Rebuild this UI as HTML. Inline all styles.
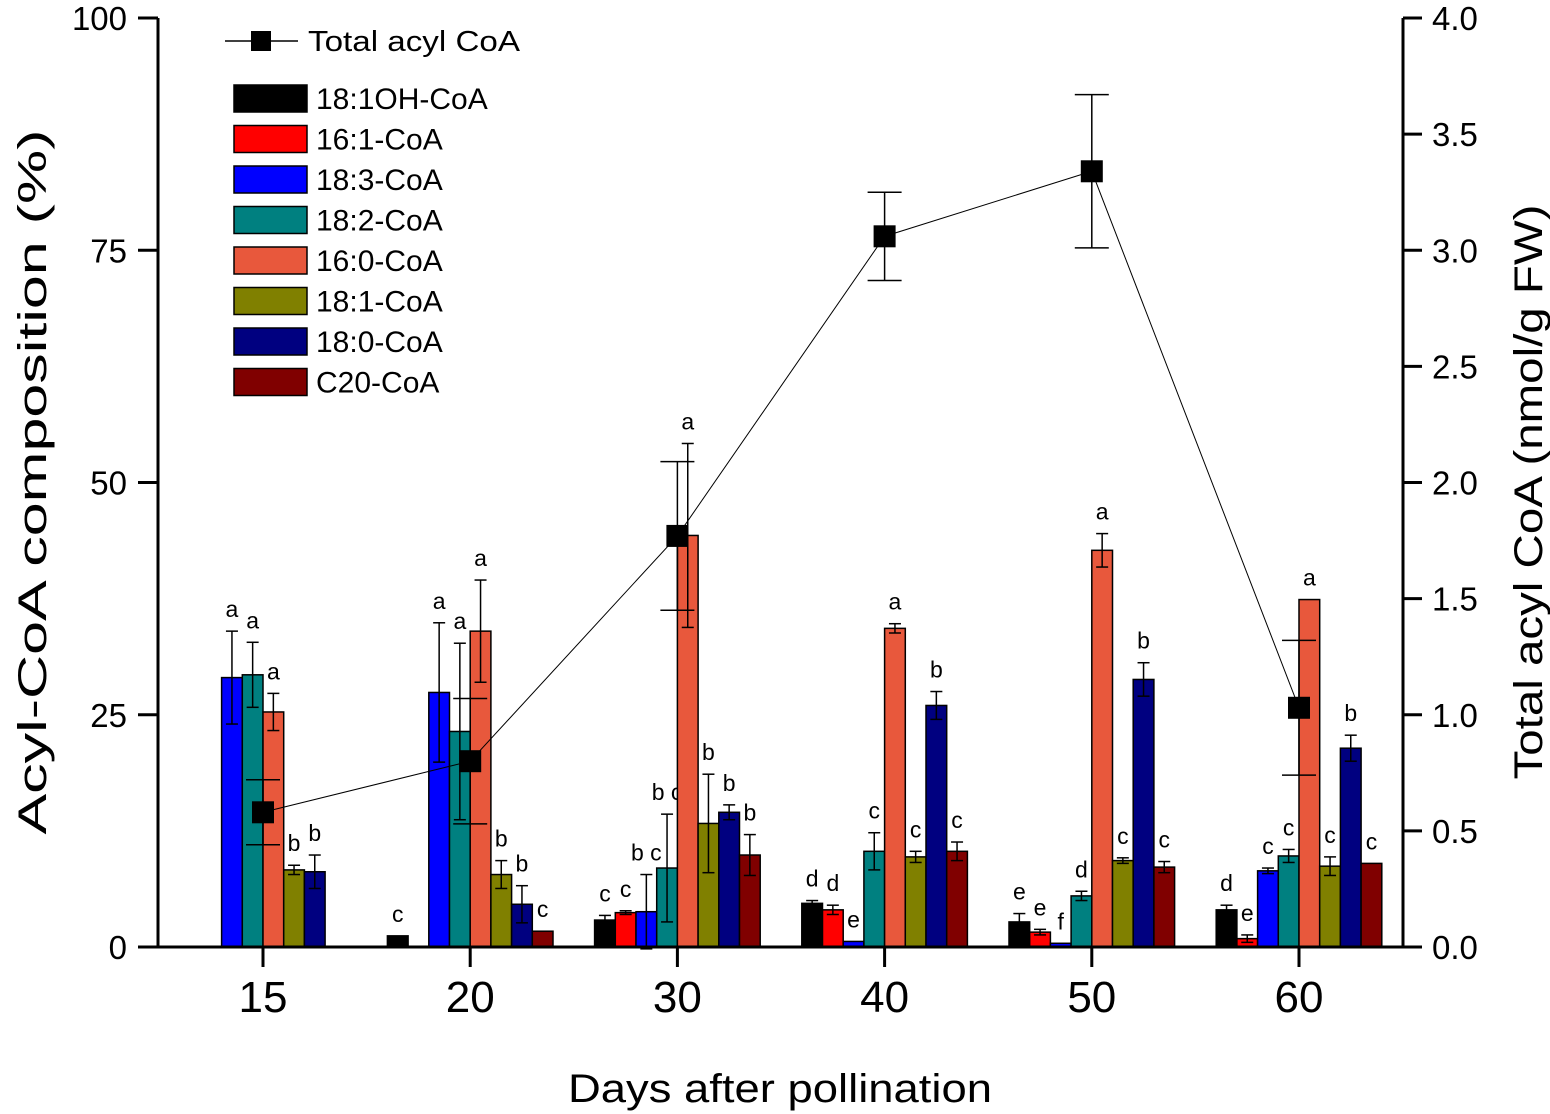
<!DOCTYPE html>
<html><head><meta charset="utf-8"><style>
body{margin:0;background:#fff}
svg{display:block;font-family:"Liberation Sans",Arial,sans-serif}
</style></head><body>
<svg id="chart" width="1550" height="1114" viewBox="0 0 1550 1114">
<g id="bars"></g>
<g id="line"></g>
<g id="axes"></g>
<g id="legend"></g>
</svg>
<script>
const categories = ["15","20","30","40","50","60"];
const seriesNames = ["18:1OH-CoA","16:1-CoA","18:3-CoA","18:2-CoA","16:0-CoA","18:1-CoA","18:0-CoA","C20-CoA"];
const colors = ["#000000","#ff0000","#0000ff","#008080","#e8583c","#808000","#000080","#800000"];
const s181OH = [0,1.2,2.9,4.7,2.7,4.0];
const s161 = [0,0,3.7,4.0,1.6,0.9];
const s183 = [29.0,27.4,3.8,0.6,0.4,8.2];
const s182 = [29.3,23.2,8.5,10.3,5.5,9.8];
const s160 = [25.3,34.0,44.3,34.3,42.7,37.4];
const s181 = [8.3,7.8,13.3,9.7,9.3,8.7];
const s180 = [8.1,4.6,14.5,26.0,28.8,21.4];
const sC20 = [0,1.7,9.9,10.3,8.6,9.0];
const e181OH = [0,0,0.5,0.3,0.9,0.5];
const e161 = [0,0,0.2,0.5,0.3,0.4];
const e183 = [5.0,7.5,4.0,0,0,0.3];
const e182 = [3.5,9.5,5.8,2.0,0.5,0.7];
const e160 = [2.0,5.5,9.9,0.5,1.8,0];
const e181 = [0.5,1.5,5.3,0.6,0.3,1.0];
const e180 = [1.8,2.0,0.8,1.5,1.8,1.4];
const eC20 = [0,0,2.2,1.0,0.6,0];
const l181OH = ["","c","c","d","e","d"];
const l161 = ["","","c","d","e","e"];
const l183 = ["a","a","b c","e","f","c"];
const l182 = ["a","a","b c","c","d","c"];
const l160 = ["a","a","a","a","a","a"];
const l181 = ["b","b","b","c","c","c"];
const l180 = ["b","b","b","b","b","b"];
const lC20 = ["","c","b","c","c","c"];
const totalAcyl = [0.58,0.80,1.77,3.06,3.34,1.03];
const totalErr = [0.14,0.27,0.32,0.19,0.33,0.29];
const yTicks = [0,25,50,75,100];
const y2Ticks = ["0.0","0.5","1.0","1.5","2.0","2.5","3.0","3.5","4.0"];

const NS="http://www.w3.org/2000/svg";
const X0=158, X1=1403, Y0=947, YT=18;
const BW=20.7;
function yL(v){return Y0-(Y0-YT)*v/100;}
function yR(v){return Y0-(Y0-YT)*v/4;}
function xC(i){return 263+i*207.2;}
function mk(tag,attrs,parent){const e=document.createElementNS(NS,tag);for(const k in attrs)e.setAttribute(k,attrs[k]);parent.appendChild(e);return e;}
const bars=document.getElementById('bars'), line=document.getElementById('line'), axes=document.getElementById('axes'), legend=document.getElementById('legend');
const vals=[s181OH,s161,s183,s182,s160,s181,s180,sC20];
const errs=[e181OH,e161,e183,e182,e160,e181,e180,eC20];
const labs=[l181OH,l161,l183,l182,l160,l181,l180,lC20];

categories.forEach((c,i)=>{
  vals.forEach((arr,s)=>{
    const v=arr[i]; const x=xC(i)-4*BW+s*BW;
    if(v>0){
      const r=mk('rect',{x:x,y:yL(v),width:BW,height:Y0-yL(v),fill:colors[s],stroke:'#000','stroke-width':1.5},bars);
      
      
      const e=errs[s][i]; const cx=x+BW/2;
      if(e>0){
        const g=mk('g',{stroke:'#000','stroke-width':1.5},bars);
        
        
        mk('line',{x1:cx,x2:cx,y1:yL(v+e),y2:yL(v-e)},g);
        mk('line',{x1:cx-6,x2:cx+6,y1:yL(v+e),y2:yL(v+e)},g);
        mk('line',{x1:cx-6,x2:cx+6,y1:yL(v-e),y2:yL(v-e)},g);
      }
    }
    const lt=labs[s][i];
    if(lt){
      const cx=x+BW/2;
      const t=mk('text',{x:cx,y:yL(v+errs[s][i])-14,'text-anchor':'middle','font-size':23},bars);
      t.textContent=lt;
      
      
    }
  });
});
let d='';
totalAcyl.forEach((v,i)=>{d+=(i?'L':'M')+xC(i)+','+yR(v);});
mk('path',{d:d,fill:'none',stroke:'#000','stroke-width':1},line);
totalAcyl.forEach((v,i)=>{
  const x=xC(i),e=totalErr[i];
  const g=mk('g',{stroke:'#000','stroke-width':1.5},line);
  
  
  mk('line',{x1:x,x2:x,y1:yR(v+e),y2:yR(v-e)},g);
  mk('line',{x1:x-17,x2:x+17,y1:yR(v+e),y2:yR(v+e)},g);
  mk('line',{x1:x-17,x2:x+17,y1:yR(v-e),y2:yR(v-e)},g);
  const m=mk('rect',{x:x-11,y:yR(v)-11,width:22,height:22,fill:'#000'},line);
  
  
});
mk('line',{x1:X0,x2:X0,y1:YT,y2:Y0,stroke:'#000','stroke-width':3},axes);
mk('line',{x1:X1,x2:X1,y1:YT,y2:Y0,stroke:'#000','stroke-width':3},axes);
mk('line',{x1:138,x2:X1,y1:Y0,y2:Y0,stroke:'#000','stroke-width':3},axes);
yTicks.forEach(v=>{
  mk('line',{x1:138,x2:X0,y1:yL(v),y2:yL(v),stroke:'#000','stroke-width':3},axes);
  const t=mk('text',{x:127,y:yL(v)+12,'text-anchor':'end','font-size':33},axes);t.textContent=v;
  
  
});
y2Ticks.forEach(v=>{
  const y=yR(parseFloat(v));
  mk('line',{x1:X1,x2:1422,y1:y,y2:y,stroke:'#000','stroke-width':3},axes);
  const t=mk('text',{x:1432,y:y+12,'font-size':33},axes);t.textContent=v;
  
  
});
categories.forEach((c,i)=>{
  mk('line',{x1:xC(i),x2:xC(i),y1:Y0,y2:967,stroke:'#000','stroke-width':3},axes);
  const t=mk('text',{x:xC(i),y:1012,'text-anchor':'middle','font-size':44},axes);t.textContent=c;
  
  
});
let t=mk('text',{x:780,y:1102,'text-anchor':'middle','font-size':40,textLength:424,lengthAdjust:'spacingAndGlyphs'},axes);t.textContent='Days after pollination';


t=mk('text',{x:0,y:0,'text-anchor':'middle','font-size':40,textLength:705,lengthAdjust:'spacingAndGlyphs',transform:'translate(46,482) rotate(-90)'},axes);t.textContent='Acyl-CoA composition (%)';


t=mk('text',{x:0,y:0,'text-anchor':'middle','font-size':40,textLength:575,lengthAdjust:'spacingAndGlyphs',transform:'translate(1542,492) rotate(-90)'},axes);t.textContent='Total acyl CoA (nmol/g FW)';


mk('line',{x1:225,x2:298,y1:41,y2:41,stroke:'#000','stroke-width':1.5},legend);
mk('rect',{x:251,y:31,width:20,height:20,fill:'#000'},legend);
t=mk('text',{x:308,y:51,'font-size':29,textLength:212,lengthAdjust:'spacingAndGlyphs'},legend);t.textContent='Total acyl CoA';


seriesNames.forEach((n,s)=>{
  const y=98+s*40.5;
  mk('rect',{x:234,y:y-13,width:73,height:27,fill:colors[s],stroke:'#000','stroke-width':1.5},legend);
  const tt=mk('text',{x:316,y:y+11,'font-size':30},legend);tt.textContent=n;
  
  
});
</script>
</body></html>
